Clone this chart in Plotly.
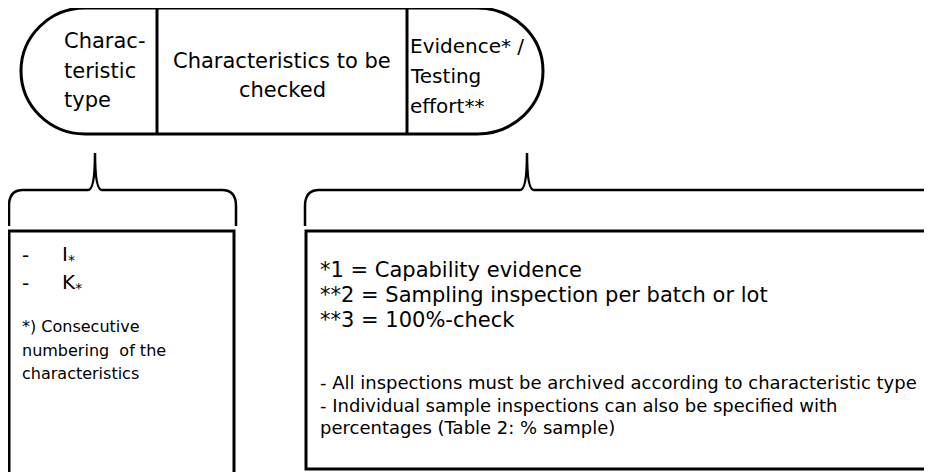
import plotly.graph_objects as go

# ---- text content ----
header_left = ["Charac-", "teristic", "type"]
header_mid = ["Characteristics to be", "checked"]
header_right = ["Evidence* /", "Testing", "effort**"]
left_items = ["I<sub>*</sub>", "K<sub>*</sub>"]
left_note = ["*) Consecutive", "numbering  of the", "characteristics"]
right_codes = ["*1 = Capability evidence",
               "**2 = Sampling inspection per batch or lot",
               "**3 = 100%-check"]
right_notes = ["- All inspections must be archived according to characteristic type",
               "- Individual sample inspections can also be specified with",
               "percentages (Table 2: % sample)"]

W, H = 932, 472
OFF = 8  # page body margin: data coordinates equal page pixels
FONT = "DejaVu Sans, Liberation Sans, Arial"
INK = "#000000"

fig = go.Figure()
fig.add_trace(go.Scatter(x=[OFF, W + OFF], y=[OFF, H + OFF], mode="markers",
                         marker=dict(opacity=0), hoverinfo="skip", showlegend=False))

shapes = []
# ---- pill header ----
L, R, T, B, XL, XR = 85, 477, 8, 134, 21, 543
M = (T + B) / 2
k = 0.5523
pill = (f"M {L},{T} L {R},{T} "
        f"C {R + (XR - R) * k},{T} {XR},{M - (M - T) * k} {XR},{M} "
        f"C {XR},{M + (B - M) * k} {R + (XR - R) * k},{B} {R},{B} "
        f"L {L},{B} "
        f"C {L - (L - XL) * k},{B} {XL},{M + (B - M) * k} {XL},{M} "
        f"C {XL},{M - (M - T) * k} {L - (L - XL) * k},{T} {L},{T} Z")
shapes.append(dict(type="path", path=pill, xref="x", yref="y",
                   line=dict(color=INK, width=3), fillcolor="rgba(0,0,0,0)"))
for xd in (157, 407):
    shapes.append(dict(type="line", x0=xd, x1=xd, y0=T, y1=B, xref="x", yref="y",
                       line=dict(color=INK, width=3)))


def brace(x0, x1, xs, ytop=153, yh=190, ybot=226):
    return (f"M {x0},{ybot} L {x0},{yh + 16} Q {x0},{yh} {x0 + 14},{yh} "
            f"L {xs - 7},{yh} Q {xs},{yh} {xs},{ytop} Q {xs},{yh} {xs + 7},{yh} "
            f"L {x1 - 14},{yh} Q {x1},{yh} {x1},{yh + 16} L {x1},{ybot}")


shapes.append(dict(type="path", path=brace(9, 236, 95), xref="x", yref="y",
                   line=dict(color=INK, width=2.5)))
shapes.append(dict(type="path", path=brace(305, 960, 527), xref="x", yref="y",
                   line=dict(color=INK, width=2.5)))

# ---- boxes ----
shapes.append(dict(type="rect", x0=9, x1=234, y0=231, y1=490, xref="x", yref="y",
                   line=dict(color=INK, width=3)))
shapes.append(dict(type="rect", x0=306, x1=960, y0=231, y1=469, xref="x", yref="y",
                   line=dict(color=INK, width=3)))

ann = []


def txt(x, y, s, size, anchor="left"):
    ann.append(dict(x=x, y=y, xref="x", yref="y", text=s, showarrow=False,
                    xanchor=anchor, yanchor="middle",
                    font=dict(family=FONT, size=size, color=INK)))


for s, y in zip(header_left, [41, 71, 100]):
    txt(62, y, s, 21)
for s, y in zip(header_mid, [61, 90]):
    txt(282, y, s, 21, "center")
for s, y in zip(header_right, [46, 76, 106]):
    txt(408, y, s, 20)

for s, y in zip(left_items, [255, 283]):
    txt(20, y, "-", 20)
    txt(60, y, s, 20)
for s, y in zip(left_note, [326, 350, 373]):
    txt(20, y, s, 16)

for s, y in zip(right_codes, [270, 295, 320]):
    txt(318, y, s, 21)
for s, y in zip(right_notes, [382, 405, 427]):
    txt(318, y, s, 18)

fig.update_layout(
    width=W, height=H, margin=dict(l=0, r=0, t=0, b=0),
    paper_bgcolor="white", plot_bgcolor="white",
    xaxis=dict(range=[OFF, W + OFF], visible=False, fixedrange=True),
    yaxis=dict(range=[H + OFF, OFF], visible=False, fixedrange=True),
    shapes=shapes, annotations=ann, showlegend=False,
)
fig.write_html("out.html")
